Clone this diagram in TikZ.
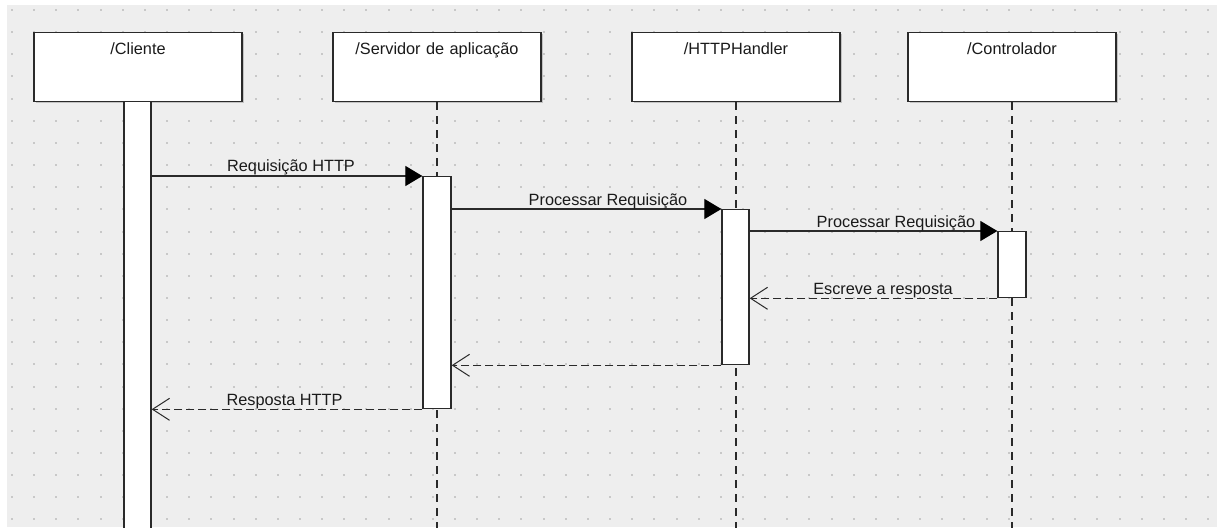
\documentclass[tikz,border=0pt]{standalone}
\usepackage{fontspec}
\setmainfont{Liberation Sans}
\usetikzlibrary{arrows.meta,shadows}
\definecolor{canvas}{HTML}{EEEEEE}
\definecolor{griddot}{HTML}{C8C8C8}
\definecolor{ink}{HTML}{2A2A2A}
\definecolor{txt}{HTML}{1A1A1A}
\begin{document}
\begin{tikzpicture}[x=1pt,y=-1pt,
  objbox/.style={draw=ink, line width=1.3pt, fill=white, inner sep=0pt,
    minimum width=208pt, text width=208pt, align=center,
    text height=22pt, text depth=47pt, anchor=north,
    font=\fontsize{16.3}{18}\selectfont, text=txt,
    drop shadow={shadow xshift=1.5pt, shadow yshift=-1.5pt, fill=black!35, opacity=0.6}},
  actbar/.style={draw=ink, line width=1.3pt, fill=white, inner sep=0pt,
    minimum width=27pt, anchor=north},
  lifeline/.style={draw=ink, line width=1.5pt, dash pattern=on 8pt off 6pt},
  callmsg/.style={draw=ink, line width=1.2pt,
    -{Triangle[length=17pt,width=20pt,fill=black,color=black]}},
  replymsg/.style={draw=ink, line width=1.2pt, dash pattern=on 8pt off 4pt,
    -{Straight Barb[length=17pt,width=22pt,line width=1pt]}},
  msglabel/.style={anchor=base, inner sep=0pt, text=txt,
    font=\fontsize{16.3}{18}\selectfont}]

% canvas with dotted grid
\useasboundingbox (0,0) rectangle (1217,527);
\fill[white] (0,0) rectangle (1217,527);
\fill[canvas] (7,5) rectangle (1217,527);
\foreach \i in {0,...,54}{
  \foreach \j in {0,...,23}{
    \fill[griddot] ({12+22.15*\i-1},{10+22.15*\j-1}) rectangle ++(2,2);
  }
}

% participants
\node[objbox] (cli) at (138,32) {/Cliente};
\node[objbox] (srv) at (437,32) {/Servidor de aplicação};
\node[objbox] (hnd) at (736,32) {/HTTPHandler};
\node[objbox] (ctl) at (1012,32) {/Controlador};

% lifelines
\coordinate (srvEnd) at (437,530);
\coordinate (hndEnd) at (736,530);
\coordinate (ctlEnd) at (1012,530);
\draw[lifeline] (srv.south) -- (srvEnd);
\draw[lifeline] (hnd.south) -- (hndEnd);
\draw[lifeline] (ctl.south) -- (ctlEnd);

% activation bars
\node[actbar, minimum height=432pt] (cliBar) at (137.5,101) {};
\node[actbar, minimum width=28pt, minimum height=232pt] (srvAct) at (437,176) {};
\node[actbar, minimum height=155pt] (hndAct) at (735.5,209) {};
\node[actbar, minimum width=28pt, minimum height=66pt] (ctlAct) at (1012,231) {};

% calls
\draw[callmsg] (srvAct.north west -| cliBar.east) -- (srvAct.north west);
\draw[callmsg] (hndAct.north west -| srvAct.east) -- (hndAct.north west);
\draw[callmsg] (ctlAct.north west -| hndAct.east) -- (ctlAct.north west);

% replies
\draw[replymsg] (ctlAct.south west) -- (ctlAct.south west -| hndAct.east);
\draw[replymsg] (hndAct.south west) -- (hndAct.south west -| srvAct.east);
\draw[replymsg] (srvAct.south west) -- (srvAct.south west -| cliBar.east);

% message labels
\node[msglabel] (lReq) at (291,171) {Requisição HTTP};
\node[msglabel] (lProc1) at (608,205) {Processar Requisição};
\node[msglabel] (lProc2) at (896,227) {Processar Requisição};
\node[msglabel] (lEsc) at (883,294) {Escreve a resposta};
\node[msglabel] (lResp) at (284.5,405) {Resposta HTTP};
\end{tikzpicture}
\end{document}
